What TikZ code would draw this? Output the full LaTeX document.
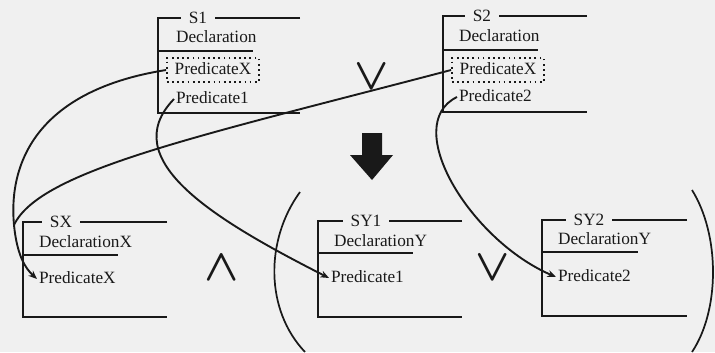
\documentclass[tikz,border=0pt]{standalone}
\usepackage{fontspec}
\setmainfont{Liberation Serif}
\usetikzlibrary{arrows.meta}
\definecolor{paper}{gray}{0.94}
\definecolor{ink}{gray}{0.1}
\tikzset{
  frame/.style={line width=1.4pt, draw=ink},
  bracket/.style={line width=1pt, draw=ink},
  title/.style={fill=paper, inner xsep=4.5pt, inner ysep=1pt, text=ink},
  label/.style={anchor=west, inner sep=1pt, text height=7pt, text depth=2pt, text=ink},
  slot/.style={draw=ink, dotted, line width=1pt, inner xsep=4.5pt, inner ysep=2.5pt,
    text height=7pt, text depth=2pt, text=ink},
  link/.style={-{Stealth[length=5pt,width=4pt]}, line width=1.1pt, draw=ink},
  feed/.style={line width=1.1pt, draw=ink},
  sym/.style={scale=2.6, text=ink, inner sep=0pt, font=\boldmath},
}
\begin{document}
\begin{tikzpicture}[x=0.58pt,y=-0.58pt]
\useasboundingbox (0,0) rectangle (715,352);
\fill[paper] (0,0) rectangle (715,352);
\clip (0,0) rectangle (715,352);

% source S1
\draw[frame] (300,18) -- (158,18) -- (158,113) -- (300,113);
\draw[frame] (158,51) -- (253,51);
\node[title] (s1) at (198,18) {S1};
\node[label] (s1d) at (174,38) {Declaration};
\node[slot] (s1x) at (213,70) {PredicateX};
\node[label] (s1p) at (174,99) {Predicate1};

% source S2
\draw[frame] (587,16) -- (443,16) -- (443,112) -- (587,112);
\draw[frame] (443,50) -- (538,50);
\node[title] (s2) at (482,16) {S2};
\node[label] (s2d) at (457,37) {Declaration};
\node[slot] (s2x) at (498,70) {PredicateX};
\node[label] (s2p) at (457,97) {Predicate2};

\node[sym] (or1) at (372,77) {$\vee$};
\fill[ink] (362,133) -- (382,133) -- (382,155) -- (393,155) -- (372,180) -- (350,155) -- (362,155) -- cycle;

% result SX
\draw[frame] (167,222) -- (23,222) -- (23,317) -- (167,317);
\draw[frame] (23,255) -- (118,255);
\node[title] (sx) at (61,222) {SX};
\node[label] (sxd) at (37,243) {DeclarationX};
\node[label] (sxp) at (37,279) {PredicateX};

\node[sym] (and1) at (222,268) {$\wedge$};

% result SY1
\draw[frame] (462,221) -- (318,221) -- (318,317) -- (462,317);
\draw[frame] (318,253) -- (413,253);
\node[title] (sy1) at (366,221) {SY1};
\node[label] (y1d) at (332,242) {DeclarationY};
\node[label] (y1p) at (329,278) {Predicate1};

\node[sym] (or2) at (493,268) {$\vee$};

% result SY2
\draw[frame] (687,220) -- (542,220) -- (542,316) -- (687,316);
\draw[frame] (542,252) -- (638,252);
\node[title] (sy2) at (589,220) {SY2};
\node[label] (y2d) at (556,240) {DeclarationY};
\node[label] (y2p) at (556,277) {Predicate2};

% brackets round SY1 and SY2
\draw[bracket] (300,192) .. controls (265,240) and (265,310) .. (305,352);
\draw[bracket] (692,190) .. controls (720,235) and (720,310) .. (692,352);

% links
\coordinate (merge) at (14,225);
\draw[link] (s1x.west) .. controls (40,90) and (8,160) .. (merge)
  .. controls (17,255) and (25,268) .. (sxp.west);
\draw[feed] (s2x.west) .. controls (200,136) and (40,170) .. (merge);
\draw[link] (s1p.west) .. controls (115,160) and (215,220) .. (y1p.west);
\draw[link] (s2p.west) .. controls (400,125) and (470,240) .. (y2p.west);
\end{tikzpicture}
\end{document}
